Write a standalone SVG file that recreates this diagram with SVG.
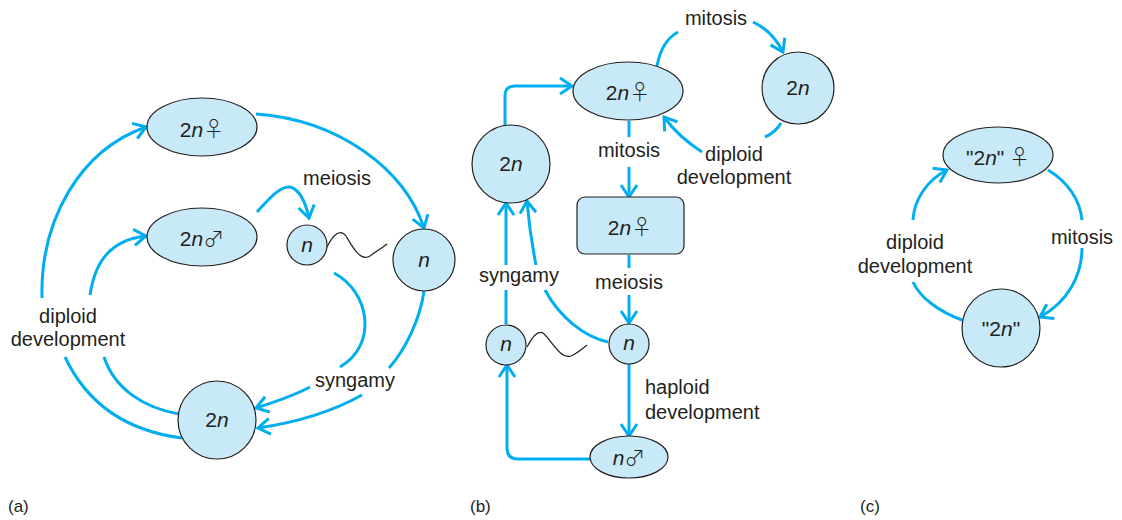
<svg xmlns="http://www.w3.org/2000/svg" width="1122" height="520" viewBox="0 0 1122 520">
<style>
.node{fill:#c8e9f8;stroke:#231f20;stroke-width:1.2}
.c{fill:none;stroke:#00aeef;stroke-width:3;stroke-linecap:butt}
.arr{marker-end:url(#ah)}
.tail{fill:none;stroke:#231f20;stroke-width:1.2}
text{font-family:"Liberation Sans",Arial,sans-serif;font-size:20px;fill:#231f20}
.lbl{text-anchor:middle}
.nl{text-anchor:middle;font-size:21px}
.i{font-style:italic}
.sym{font-family:"Noto Sans CJK JP","DejaVu Sans",sans-serif;font-size:21px;font-weight:300}
</style>
<defs>
<marker id="ah" markerUnits="userSpaceOnUse" viewBox="0 0 16 20" markerWidth="16" markerHeight="20" refX="14" refY="10" orient="auto">
<path d="M2,2 L14,10 L2,18" fill="none" stroke="#00aeef" stroke-width="3"/>
</marker>
</defs>

<g id="connectors">
<!-- panel a -->
<path class="c arr" d="M42,298 C40,220 80,150 146,127"/>
<path class="c arr" d="M90,295 C95,262 110,240 146,236"/>
<path class="c" d="M65,357 C90,410 135,432 182,438"/>
<path class="c" d="M104,357 C115,390 145,408 179,414"/>
<path class="c arr" d="M256,114 C340,120 405,170 424,228"/>
<path class="c arr" d="M257,212 C270,198 280,186 290,187 C298,189 305,200 309,218"/>
<path class="c" d="M334,273 C370,292 378,345 340,367"/>
<path class="c arr" d="M310,387 C295,395 275,402 256,408"/>
<path class="c" d="M424,291 C420,320 405,350 389,368"/>
<path class="c arr" d="M362,395 C335,410 300,422 258,428"/>
<!-- panel b -->
<path class="c arr" d="M505,125 L505,96 Q505,86 515,86 L572,86"/>
<path class="c" d="M657,66 C660,50 667,38 678,32"/>
<path class="c arr" d="M753,22 C766,28 776,38 783,52"/>
<path class="c" d="M781,123 C777,130 772,134 765,137"/>
<path class="c arr" d="M702,152 C688,143 675,132 664,117"/>
<path class="c" d="M629,121 L629,137"/>
<path class="c arr" d="M629,167 L629,197"/>
<path class="c" d="M629,255 L629,268"/>
<path class="c arr" d="M629,295 L629,323"/>
<path class="c arr" d="M629,364 L629,436"/>
<path class="c arr" d="M590,459 L518,459 Q507,459 507,448 L507,365"/>
<path class="c" d="M506,324 L506,290"/>
<path class="c arr" d="M506,265 L506,203"/>
<path class="c" d="M608,342 C585,337 560,318 545,290"/>
<path class="c arr" d="M536,265 C532,245 529,225 527,201"/>
<!-- panel c -->
<path class="c" d="M962,320 C940,312 920,298 913,282"/>
<path class="c arr" d="M913,220 C914,200 927,180 947,170"/>
<path class="c" d="M1048,170 C1068,182 1080,200 1082,220"/>
<path class="c arr" d="M1082,248 C1082,275 1068,302 1040,317"/>
</g>

<g id="tails">
<path class="tail" d="M327,247 C333,235 340,228 346,236 C352,246 360,262 370,256 C377,251 382,248 387,244"/>
<path class="tail" d="M527,347 C532,338 537,330 543,333 C550,338 560,360 571,356 C578,353 582,349 587,345"/>
</g>

<!-- panel a nodes -->
<g id="a-2nF"><ellipse class="node" cx="202" cy="127" rx="55" ry="29"/><text class="nl" x="202" y="137">2<tspan class="i">n</tspan><tspan class="sym" dy="-1">♀</tspan></text></g>
<g id="a-2nM"><ellipse class="node" cx="202" cy="237" rx="55" ry="29"/><text class="nl" x="202" y="246">2<tspan class="i">n</tspan><tspan class="sym" dy="0">♂</tspan></text></g>
<g id="a-nsmall"><circle class="node" cx="307" cy="245" r="20"/><text class="nl i" x="307" y="252">n</text></g>
<g id="a-nbig"><circle class="node" cx="424" cy="260" r="31"/><text class="nl i" x="424" y="267">n</text></g>
<g id="a-2n"><circle class="node" cx="217" cy="420" r="39"/><text class="nl" x="217" y="427">2<tspan class="i">n</tspan></text></g>

<!-- panel b nodes -->
<g id="b-2nF"><ellipse class="node" cx="628" cy="91" rx="55" ry="29"/><text class="nl" x="628" y="100">2<tspan class="i">n</tspan><tspan class="sym" dy="-1">♀</tspan></text></g>
<g id="b-2nR"><circle class="node" cx="798" cy="88" r="36"/><text class="nl" x="798" y="95">2<tspan class="i">n</tspan></text></g>
<g id="b-2nL"><circle class="node" cx="511" cy="164" r="39"/><text class="nl" x="511" y="171">2<tspan class="i">n</tspan></text></g>
<g id="b-rect"><rect class="node" x="577" y="197" width="107" height="57" rx="8"/><text class="nl" x="630" y="235">2<tspan class="i">n</tspan><tspan class="sym" dy="-1">♀</tspan></text></g>
<g id="b-nR"><circle class="node" cx="629" cy="344" r="20"/><text class="nl i" x="629" y="350">n</text></g>
<g id="b-nL"><circle class="node" cx="506" cy="345" r="20"/><text class="nl i" x="506" y="351">n</text></g>
<g id="b-nM"><ellipse class="node" cx="629" cy="457" rx="39" ry="21"/><text class="nl" x="629" y="465"><tspan class="i">n</tspan><tspan class="sym" dy="0">♂</tspan></text></g>

<!-- panel c nodes -->
<g id="c-2nF"><ellipse class="node" cx="998" cy="155" rx="55" ry="28"/><text class="nl" x="998" y="165">"2<tspan class="i">n</tspan>"<tspan class="sym" dy="-1"> ♀</tspan></text></g>
<g id="c-2n"><circle class="node" cx="1001" cy="328" r="39"/><text class="nl" x="1001" y="336">"2<tspan class="i">n</tspan>"</text></g>

<g id="labels">
<text class="lbl" x="337" y="185">meiosis</text>
<text class="lbl" x="68" y="323">diploid</text>
<text class="lbl" x="68" y="346">development</text>
<text class="lbl" x="355" y="387">syngamy</text>
<text class="lbl" x="716" y="25">mitosis</text>
<text class="lbl" x="629" y="157">mitosis</text>
<text class="lbl" x="734" y="161">diploid</text>
<text class="lbl" x="734" y="184">development</text>
<text class="lbl" x="519" y="282">syngamy</text>
<text class="lbl" x="629" y="289">meiosis</text>
<text x="645" y="394">haploid</text>
<text x="645" y="419">development</text>
<text class="lbl" x="1082" y="244">mitosis</text>
<text class="lbl" x="915" y="249">diploid</text>
<text class="lbl" x="915" y="273">development</text>
<text x="8" y="512" style="font-size:17px">(a)</text>
<text x="470" y="512" style="font-size:17px">(b)</text>
<text x="860" y="512" style="font-size:17px">(c)</text>
</g>
</svg>
